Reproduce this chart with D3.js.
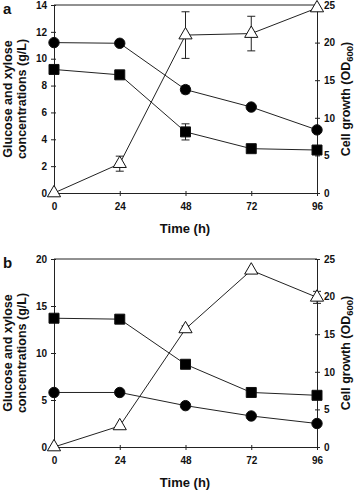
<!DOCTYPE html>
<html>
<head>
    <script src="https://d3js.org/d3.v7.min.js"></script>
    <style>
        body { margin: 0; background: white; }
        text { font-family: Arial, "Liberation Sans", sans-serif; font-weight: bold; fill: #111; }
    </style>
</head>
<body>
<div id="chart"></div>
<script>
    // time points (h)
    var hours = [0, 24, 48, 72, 96];

    // panel a
    var aCircle = [11.2, 11.15, 7.7, 6.4, 4.7];
    var aCircleErr = [0, 0, 0.3, 0, 0];
    var aSquare = [9.2, 8.8, 4.55, 3.3, 3.2];
    var aSquareErr = [0, 0, 0.6, 0, 0];
    var aTriangle = [0, 3.9, 21.0, 21.2, 24.6];
    var aTriangleErr = [0, 1.0, 3.1, 2.3, 0];

    // panel b
    var bCircle = [5.8, 5.8, 4.4, 3.3, 2.5];
    var bCircleErr = [0, 0, 0, 0, 0];
    var bSquare = [13.7, 13.6, 8.8, 5.8, 5.5];
    var bSquareErr = [0, 0, 0.3, 0, 0];
    var bTriangle = [0, 2.8, 15.7, 23.5, 19.9];
    var bTriangleErr = [0, 0, 0.4, 0, 0.8];

    // tick labels
    var xTicks = [0, 24, 48, 72, 96];
    var aLeftTicks = [0, 2, 4, 6, 8, 10, 12, 14];
    var bLeftTicks = [0, 5, 10, 15, 20];
    var rightTicks = [0, 5, 10, 15, 20, 25];

    var W = 359, H = 490;
    var svg = d3.select("#chart").append("svg")
        .attr("width", W).attr("height", H);

    var x = d3.scaleLinear().domain([0, 96]).range([54, 317]);

    function drawPanel(letter, top, bottom, leftMax, leftTicks, circle, circleErr, square, squareErr, tri, triErr) {
        var g = svg.append("g");
        var yL = d3.scaleLinear().domain([0, leftMax]).range([bottom, top]);
        var yR = d3.scaleLinear().domain([0, 25]).range([bottom, top]);

        // top frame line
        g.append("line")
            .attr("x1", x(0)).attr("x2", x(96))
            .attr("y1", top).attr("y2", top)
            .attr("stroke", "#222").attr("stroke-width", 1);

        // axes
        var ax = g.append("g").attr("transform", "translate(0," + bottom + ")")
            .call(d3.axisBottom(x).tickValues(xTicks).tickSizeInner(3).tickSizeOuter(0).tickPadding(7));
        ax.selectAll(".tick line").attr("y1", -2);
        var al = g.append("g").attr("transform", "translate(" + x(0) + ",0)")
            .call(d3.axisLeft(yL).tickValues(leftTicks).tickSizeInner(3).tickSizeOuter(0).tickPadding(4));
        al.selectAll(".tick line").attr("x1", 2);
        var ar = g.append("g").attr("transform", "translate(" + x(96) + ",0)")
            .call(d3.axisRight(yR).tickValues(rightTicks).tickSizeInner(3).tickSizeOuter(0).tickPadding(4));
        ar.selectAll(".tick line").attr("x1", -2);
        g.selectAll(".domain").attr("stroke", "#222");
        g.selectAll(".tick line").attr("stroke", "#222");
        g.selectAll(".tick text").style("font-size", "10px").style("font-family", "Arial, 'Liberation Sans', sans-serif").style("font-weight", "bold").attr("fill", "#111");

        var series = [
            {v: circle, e: circleErr, y: yL, sym: d3.symbolCircle, size: 85, fill: "black"},
            {v: square, e: squareErr, y: yL, sym: d3.symbolSquare, size: 100, fill: "black"},
            {v: tri, e: triErr, y: yR, sym: d3.symbolTriangle, size: 75, fill: "white"}
        ];

        series.forEach(function(s) {
            var pts = hours.map(function(h, i) { return {h: h, v: s.v[i], e: s.e[i]}; });
            g.append("path")
                .datum(pts)
                .attr("fill", "none").attr("stroke", "#222").attr("stroke-width", 1)
                .attr("d", d3.line().x(function(d) { return x(d.h); }).y(function(d) { return s.y(d.v); }));

            // error bars
            var eb = g.selectAll(null).data(pts.filter(function(d) { return d.e > 0; })).enter().append("g")
                .attr("stroke", "#222").attr("stroke-width", 1);
            eb.append("line")
                .attr("x1", function(d) { return x(d.h); }).attr("x2", function(d) { return x(d.h); })
                .attr("y1", function(d) { return s.y(d.v - d.e); }).attr("y2", function(d) { return s.y(d.v + d.e); });
            eb.append("line")
                .attr("x1", function(d) { return x(d.h) - 4; }).attr("x2", function(d) { return x(d.h) + 4; })
                .attr("y1", function(d) { return s.y(d.v - d.e); }).attr("y2", function(d) { return s.y(d.v - d.e); });
            eb.append("line")
                .attr("x1", function(d) { return x(d.h) - 4; }).attr("x2", function(d) { return x(d.h) + 4; })
                .attr("y1", function(d) { return s.y(d.v + d.e); }).attr("y2", function(d) { return s.y(d.v + d.e); });

            g.selectAll(null).data(pts).enter().append("path")
                .attr("transform", function(d) { return "translate(" + x(d.h) + "," + s.y(d.v) + ")"; })
                .attr("d", d3.symbol().type(s.sym).size(s.size))
                .attr("fill", s.fill).attr("stroke", "#111").attr("stroke-width", 1);
        });

        var mid = (top + bottom) / 2;

        // panel letter
        g.append("text").attr("x", 3).attr("y", top + 9).style("font-size", "15px").text(letter);

        // left label
        var ll = g.append("text").attr("transform", "translate(12," + mid + ") rotate(-90)")
            .attr("text-anchor", "middle").style("font-size", "12.5px");
        ll.append("tspan").attr("x", 0).attr("dy", 0).text("Glucose and xylose");
        ll.append("tspan").attr("x", 0).attr("dy", 14).text("concentrations (g/L)");

        // right label
        var rl = g.append("text").attr("transform", "translate(350," + mid + ") rotate(-90)")
            .attr("text-anchor", "middle").style("font-size", "12.5px");
        rl.append("tspan").text("Cell growth (OD");
        rl.append("tspan").attr("dy", 3).style("font-size", "9.5px").text("600");
        rl.append("tspan").attr("dy", -3).text(")");

        // x label
        g.append("text").attr("x", 185).attr("y", bottom + 40)
            .attr("text-anchor", "middle").style("font-size", "13px").text("Time (h)");
    }

    drawPanel("a", 5, 193, 14, aLeftTicks, aCircle, aCircleErr, aSquare, aSquareErr, aTriangle, aTriangleErr);
    drawPanel("b", 259, 447, 20, bLeftTicks, bCircle, bCircleErr, bSquare, bSquareErr, bTriangle, bTriangleErr);
</script>
</body>
</html>
